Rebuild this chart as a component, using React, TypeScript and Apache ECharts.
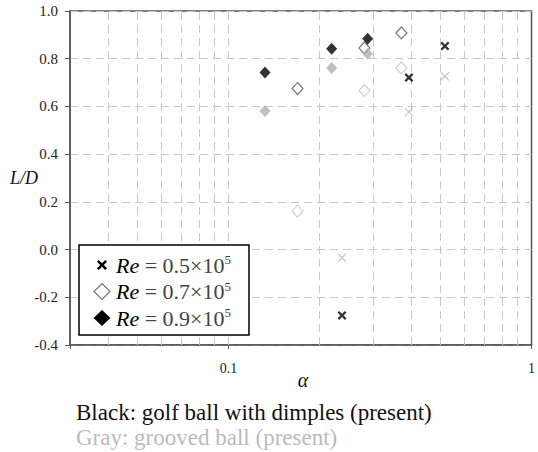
import React, { useEffect, useRef } from 'react';
import * as echarts from 'echarts';

// ---- data ----
const alphaRe05 = [0.237, 0.394, 0.518];
const alphaRe07 = [0.169, 0.281, 0.372];
const alphaRe09 = [0.132, 0.219, 0.288];

const ldDimpleRe05 = [-0.276, 0.721, 0.853];
const ldDimpleRe07 = [0.675, 0.845, 0.908];
const ldDimpleRe09 = [0.742, 0.842, 0.884];

const ldGrooveRe05 = [-0.034, 0.577, 0.726];
const ldGrooveRe07 = [0.161, 0.667, 0.761];
const ldGrooveRe09 = [0.581, 0.761, 0.821];

const xTickValues = [0.1, 1];
const xTickLabels = ['0.1', '1'];
const xGridValues = [0.04, 0.05, 0.06, 0.07, 0.08, 0.09, 0.1, 0.2, 0.3, 0.4, 0.5, 0.6, 0.7, 0.8, 0.9];
const legendReValues = ['0.5', '0.7', '0.9'];
const captionLines = ['Black: golf ball with dimples (present)', 'Gray: grooved ball (present)'];

const SERIF = 'Liberation Serif';
const X_BOLD = 'path://M0,1.8L1.8,0L5,3.2L8.2,0L10,1.8L6.8,5L10,8.2L8.2,10L5,6.8L1.8,10L0,8.2L3.2,5Z';
const X_THIN = 'path://M0,0.9L0.9,0L5,4.1L9.1,0L10,0.9L5.9,5L10,9.1L9.1,10L5,5.9L0.9,10L0,9.1L4.1,5Z';
const CROSS_REL = [[0, 1.8], [1.8, 0], [5, 3.2], [8.2, 0], [10, 1.8], [6.8, 5], [10, 8.2], [8.2, 10], [5, 6.8], [1.8, 10], [0, 8.2], [3.2, 5]];

const zip = (xs: number[], ys: number[]) => xs.map((x, i) => [x, ys[i]]);

export default function App() {
  const ref = useRef<HTMLDivElement>(null);

  useEffect(() => {
    if (!ref.current) return;
    const chart = echarts.init(ref.current, undefined, { renderer: 'svg' });

    const legendLeft = 79, legendTop = 245, legendW = 170, legendH = 90;
    const rowY = (i: number) => 265 + i * 26.5;
    const mx = 102;
    const crossPts = (cx: number, cy: number, s: number) =>
      CROSS_REL.map(([px, py]) => [cx - s / 2 + (px * s) / 10, cy - s / 2 + (py * s) / 10]);

    const legendElements: any[] = [
      {
        type: 'rect',
        shape: { x: legendLeft, y: legendTop, width: legendW, height: legendH },
        style: { fill: '#fff', stroke: '#000', lineWidth: 1.5 },
        z: 100,
      },
      { type: 'polygon', shape: { points: crossPts(mx, rowY(0), 10) }, style: { fill: '#000' }, z: 101 },
      {
        type: 'polygon',
        shape: { points: [[mx, rowY(1) - 8], [mx + 8, rowY(1)], [mx, rowY(1) + 8], [mx - 8, rowY(1)]] },
        style: { fill: '#fff', stroke: '#777', lineWidth: 1.2 },
        z: 101,
      },
      {
        type: 'polygon',
        shape: { points: [[mx, rowY(2) - 8], [mx + 8.5, rowY(2)], [mx, rowY(2) + 8], [mx - 8.5, rowY(2)]] },
        style: { fill: '#000' },
        z: 101,
      },
    ];
    legendReValues.forEach((v, i) => {
      legendElements.push({
        type: 'text',
        x: 116,
        y: rowY(i),
        z: 101,
        style: {
          text: `{i|Re}{n| = ${v}×10}{s|5}`,
          fontFamily: SERIF,
          fontSize: 22,
          verticalAlign: 'middle',
          align: 'left',
          rich: {
            i: { fontFamily: SERIF, fontStyle: 'italic', fontSize: 22, fill: '#000', lineHeight: 24 },
            n: { fontFamily: SERIF, fontSize: 22, fill: '#444', lineHeight: 24 },
            s: { fontFamily: SERIF, fontSize: 13, fill: '#444', verticalAlign: 'top', lineHeight: 14 },
          },
        },
      });
    });

    const option: any = {
      animation: false,
      grid: {
        left: 70, top: 11, right: 1, bottom: 107,
        show: true, borderColor: '#555', borderWidth: 1.5, backgroundColor: 'transparent',
      },
      xAxis: {
        type: 'log', logBase: 10, min: 0.03, max: 1,
        axisLine: { show: true, onZero: false, lineStyle: { color: '#555', width: 1.5 } },
        axisTick: { show: true, length: 4, lineStyle: { color: '#555' } },
        splitLine: { show: false },
        axisLabel: {
          fontFamily: SERIF, fontSize: 14, color: '#222', margin: 16,
          formatter: (v: number) => {
            const idx = xTickValues.findIndex((t) => Math.abs(Math.log10(v) - Math.log10(t)) < 1e-6);
            return idx >= 0 ? xTickLabels[idx] : '';
          },
        },
      },
      yAxis: {
        type: 'value', min: -0.4, max: 1.0, interval: 0.2,
        axisLine: { show: true, onZero: false, lineStyle: { color: '#555', width: 1.5 } },
        axisTick: { show: true, length: 5, lineStyle: { color: '#555' } },
        splitLine: { show: true, lineStyle: { type: [8, 5], color: '#c8c8c8', width: 1 } },
        axisLabel: {
          fontFamily: SERIF, fontSize: 15, color: '#222', margin: 12,
          formatter: (v: number) => v.toFixed(1),
        },
      },
      graphic: [
        {
          type: 'text', x: 24, y: 178, z: 50,
          style: { text: 'L/D', fontFamily: SERIF, fontStyle: 'italic', fontSize: 18, fill: '#111', align: 'center', verticalAlign: 'middle' },
        },
        {
          type: 'text', x: 303, y: 380, z: 50,
          style: { text: 'α', fontFamily: SERIF, fontStyle: 'italic', fontSize: 20, fill: '#111', align: 'center', verticalAlign: 'middle' },
        },
        {
          type: 'text', x: 76, y: 412, z: 50,
          style: { text: captionLines[0], fontFamily: SERIF, fontSize: 23, fill: '#111', verticalAlign: 'middle' },
        },
        {
          type: 'text', x: 76, y: 437, z: 50,
          style: { text: captionLines[1], fontFamily: SERIF, fontSize: 23, fill: '#bbb', verticalAlign: 'middle' },
        },
        ...legendElements,
      ],
      series: [
        {
          name: 'Re = 0.7×10^5 (grooved)', type: 'scatter', silent: true,
          data: zip(alphaRe07, ldGrooveRe07), symbol: 'diamond', symbolSize: [11, 12],
          itemStyle: { color: '#fff', borderColor: '#c4c4c4', borderWidth: 1.2 },
          markLine: {
            silent: true, symbol: ['none', 'none'], z: 1, label: { show: false },
            lineStyle: { type: [8, 5], color: '#c8c8c8', width: 1 },
            emphasis: { disabled: true },
            data: xGridValues.map((v) => ({ xAxis: v })),
          },
        },
        {
          name: 'Re = 0.7×10^5 (dimples)', type: 'scatter', silent: true,
          data: zip(alphaRe07, ldDimpleRe07), symbol: 'diamond', symbolSize: [11, 12],
          itemStyle: { color: '#fff', borderColor: '#555', borderWidth: 1.2 },
        },
        {
          name: 'Re = 0.5×10^5 (grooved)', type: 'scatter', silent: true,
          data: zip(alphaRe05, ldGrooveRe05), symbol: X_THIN, symbolSize: 9,
          itemStyle: { color: '#b8b8b8' },
        },
        {
          name: 'Re = 0.5×10^5 (dimples)', type: 'scatter', silent: true,
          data: zip(alphaRe05, ldDimpleRe05), symbol: X_BOLD, symbolSize: 9,
          itemStyle: { color: '#000' },
        },
        {
          name: 'Re = 0.9×10^5 (grooved)', type: 'scatter', silent: true,
          data: zip(alphaRe09, ldGrooveRe09), symbol: 'diamond', symbolSize: [11, 12],
          itemStyle: { color: '#b0b0b0' },
        },
        {
          name: 'Re = 0.9×10^5 (dimples)', type: 'scatter', silent: true,
          data: zip(alphaRe09, ldDimpleRe09), symbol: 'diamond', symbolSize: [11, 12],
          itemStyle: { color: '#000' },
        },
      ],
    };

    chart.setOption(option);
    return () => chart.dispose();
  }, []);

  return (
    <div
      ref={ref}
      style={{ position: 'absolute', left: 0, top: 0, width: 538, height: 452, background: '#fff' }}
    />
  );
}
